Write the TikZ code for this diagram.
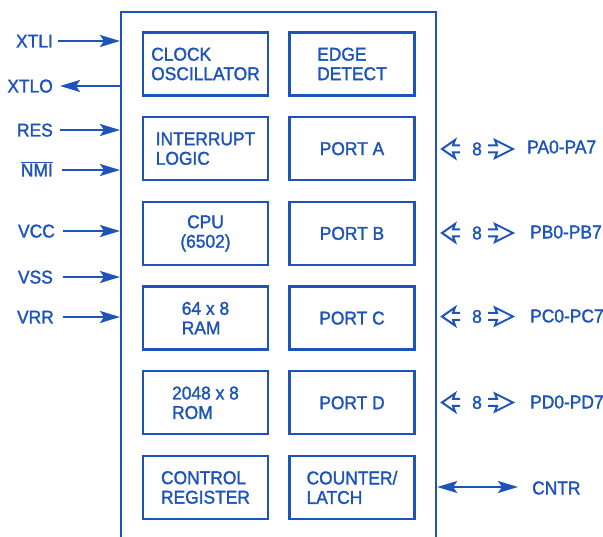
\documentclass[tikz,border=0pt]{standalone}
\usepackage{fontspec}
\setmainfont{Liberation Sans}[FakeStretch=0.94,FakeBold=1.6]
\usetikzlibrary{arrows.meta}
\definecolor{ink}{RGB}{30,84,186}
\begin{document}
\begin{tikzpicture}[x=1pt,y=-1pt,
  every node/.style={text=ink,font=\fontsize{18.5}{19.5}\selectfont,inner sep=0pt},
  blk/.style={draw=ink,line width=2.2pt,minimum width=125pt,minimum height=63pt,align=left},
  lbl/.style={anchor=base east},
  rlbl/.style={anchor=west},
  tip/.style={},
  sig/.style={draw=ink,line width=2pt,-{Stealth[length=20pt,width=12pt,inset=4pt]}},
  bidir/.style={draw=ink,line width=2pt,{Stealth[length=20pt,width=12pt,inset=4pt]}-{Stealth[length=20pt,width=12pt,inset=4pt]}},
  busarrow/.pic={
    \draw[ink,line width=2pt,line join=miter]
      (-17,-3.5) -- (-24,-3.5) -- (-22,-9) -- (-35,0) -- (-22,9) -- (-24,3.5) -- (-17,3.5);
    \draw[ink,line width=2pt,line join=miter]
      (11,-3.5) -- (20,-3.5) -- (18,-9) -- (36,0) -- (18,9) -- (20,3.5) -- (11,3.5);
  }
]
\useasboundingbox (0,0) rectangle (603,537);
% outer chip outline (open at the bottom edge of the picture)
\node[draw=ink,line width=2.2pt,minimum width=315pt,minimum height=540pt,anchor=north west] (chip) at (120,11) {};

% left column blocks
\node[blk] (clk) at (205.5,64) {CLOCK\\OSCILLATOR};
\node[blk] (irq) at (205.5,148.7) {INTERRUPT\\LOGIC};
\node[blk,align=center] (cpu) at (205.5,233.4) {CPU\\(6502)};
\node[blk] (ram) at (205.5,318.1) {64 x 8\\RAM};
\node[blk] (rom) at (205.5,402.8) {2048 x 8\\ROM};
\node[blk] (ctl) at (205.5,487.5) {CONTROL\\REGISTER};

% right column blocks
\node[blk] (edge) at (352,64) {EDGE\\DETECT};
\node[blk] (pa) at (352,148.7) {PORT A};
\node[blk] (pb) at (352,233.4) {PORT B};
\node[blk] (pc) at (352,318.1) {PORT C};
\node[blk] (pd) at (352,402.8) {PORT D};
\node[blk] (cnt) at (352,487.5) {COUNTER/\\LATCH};

% left signals
\node[lbl] (xtli) at (53,47.5) {XTLI};
\node[lbl] (xtlo) at (53,92.5) {XTLO};
\node[lbl] (res) at (53,136.5) {RES};
\node[lbl] (nmi) at (53,176.5) {$\overline{\hbox{NMI}}$};
\node[lbl] (vcc) at (55,237.5) {VCC};
\node[lbl] (vss) at (53,283.5) {VSS};
\node[lbl] (vrr) at (54,323.5) {VRR};

\coordinate (xtliS) at (58,41);
\coordinate (xtloT) at (60,86);
\coordinate (resS) at (60,130);
\coordinate (nmiS) at (62,170);
\coordinate (vccS) at (63,231);
\coordinate (vssS) at (63,277);
\coordinate (vrrS) at (63,317);

\draw[sig] (xtliS) -- (xtliS -| chip.west);
\draw[sig] (xtloT -| chip.west) -- (xtloT);
\draw[sig] (resS) -- (resS -| chip.west);
\draw[sig] (nmiS) -- (nmiS -| chip.west);
\draw[sig] (vccS) -- (vccS -| chip.west);
\draw[sig] (vssS) -- (vssS -| chip.west);
\draw[sig] (vrrS) -- (vrrS -| chip.west);

% right side buses
\node (na) at (477,149) {8};
\node (nb) at (477,233) {8};
\node (nc) at (477,316.5) {8};
\node (nd) at (477,402.5) {8};
\pic at (na) {busarrow};
\pic at (nb) {busarrow};
\pic at (nc) {busarrow};
\pic at (nd) {busarrow};

\node[rlbl] (paL) at (527,147) {PA0-PA7};
\node[rlbl] (pbL) at (530,232) {PB0-PB7};
\node[rlbl] (pcL) at (530,316) {PC0-PC7};
\node[rlbl] (pdL) at (530,402) {PD0-PD7};
\node[rlbl] (cntr) at (532,488) {CNTR};

\coordinate (cntrE) at (518,487);
\draw[bidir] (cntrE -| chip.east) -- (cntrE);
\end{tikzpicture}
\end{document}
